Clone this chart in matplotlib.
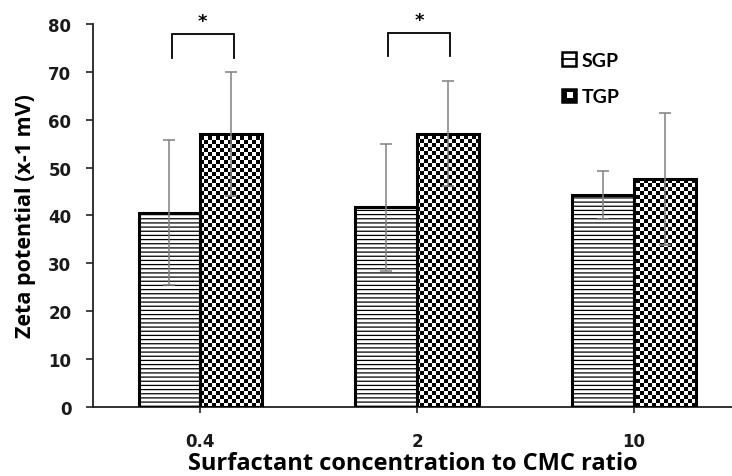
import numpy as np
import matplotlib
matplotlib.use("Agg")
import matplotlib.pyplot as plt
from matplotlib.patches import Rectangle
from matplotlib.lines import Line2D
from matplotlib.legend_handler import HandlerBase

categories = ["0.4", "2", "10"]
series_names = ["SGP", "TGP"]
sgp_values = [40.6, 41.7, 44.3]
sgp_errors = [15.1, 13.3, 5.0]
tgp_values = [57.0, 57.1, 47.6]
tgp_errors = [13.0, 10.9, 13.8]
yticks = [0, 10, 20, 30, 40, 50, 60, 70, 80]
sig_groups = [0, 1]
sig_bracket_top = [78.0, 78.2]
sig_bracket_bottom = [72.8, 73.4]

plt.rcParams['hatch.linewidth'] = 0.9
fig = plt.figure(figsize=(7.32, 4.77), dpi=100)
ax = fig.add_axes([93/732, 1-408/477, 1-93/732, (408-25)/477])

x = np.arange(len(categories))
w = 0.286
# SGP bars with horizontal line hatch
sgp_bars = ax.bar(x - w/2, sgp_values, w, facecolor='white', edgecolor='black',
                  hatch='----', linewidth=0, zorder=2)
ax.bar(x - w/2, sgp_values, w, facecolor='none', edgecolor='black', linewidth=2.2, zorder=3)

# TGP bars with checkerboard fill
tgp_bars = ax.bar(x + w/2, tgp_values, w, facecolor='white', edgecolor='none', zorder=2)
ax.bar(x + w/2, tgp_values, w, facecolor='none', edgecolor='black', linewidth=2.2, zorder=3)
ny, nx = 96, 160
checker = (np.indices((ny, nx)).sum(axis=0) % 2).astype(float)
for b in tgp_bars:
    im = ax.imshow(checker, cmap='gray_r', extent=[0, 1, 0, 1], transform=ax.transAxes,
                   interpolation='nearest', aspect='auto', zorder=2.5, vmin=0, vmax=1)
    im.set_clip_path(b)

# error bars
ax.errorbar(x - w/2, sgp_values, yerr=sgp_errors, fmt='none', ecolor='#808080',
            elinewidth=1.1, capsize=4, capthick=1.1, zorder=4)
ax.errorbar(x + w/2, tgp_values, yerr=tgp_errors, fmt='none', ecolor='#808080',
            elinewidth=1.1, capsize=4, capthick=1.1, zorder=4)

# significance brackets
for g, top, bot in zip(sig_groups, sig_bracket_top, sig_bracket_bottom):
    xl, xr = g - w/2 + 0.01, g + w/2 + 0.01
    ax.plot([xl, xl, xr, xr], [bot, top, top, bot], color='black', lw=1.3,
            clip_on=False, zorder=5, solid_joinstyle='miter')
    ax.text((xl + xr)/2, top + 0.8, '*', ha='center', va='bottom', fontsize=13,
            fontweight='bold', clip_on=False)

ax.set_xlim(-0.496, 2.453)
ax.set_ylim(0, 80)
ax.set_xticks(x)
ax.set_xticklabels(categories)
ax.set_yticks(yticks)
for s in ['top', 'right']:
    ax.spines[s].set_visible(False)
for s in ['left', 'bottom']:
    ax.spines[s].set_linewidth(1.3)
    ax.spines[s].set_color('#222222')
ax.tick_params(axis='y', direction='out', length=5, width=1.2, pad=10.5, color='#222222')
ax.tick_params(axis='x', direction='out', length=4, width=1.2, pad=14, color='#222222')
for lab in ax.get_xticklabels() + ax.get_yticklabels():
    lab.set_fontfamily('DejaVu Sans')
    lab.set_fontweight('bold')
    lab.set_fontsize(12)
    lab.set_color('#1a1a1a')

ax.set_ylabel('Zeta potential (x-1 mV)', fontsize=15.5, fontweight='bold', family='Open Sans', labelpad=9)
fig.text(412.5/732, 6.5/477, 'Surfactant concentration to CMC ratio', fontsize=17,
         fontweight='bold', family='Open Sans', ha='center', va='baseline')


class HandlerSGP(HandlerBase):
    def create_artists(self, legend, orig_handle, xdescent, ydescent, width, height, fontsize, trans):
        s = height * 1.0
        x0 = (width - s) / 2 - xdescent
        y0 = -ydescent + (height - s) / 2
        r = Rectangle((x0, y0), s, s, facecolor='white', edgecolor='black', lw=1.8, transform=trans)
        l = Line2D([x0, x0 + s], [y0 + s/2, y0 + s/2], color='black', lw=1.3, transform=trans)
        return [r, l]


class HandlerTGP(HandlerBase):
    def create_artists(self, legend, orig_handle, xdescent, ydescent, width, height, fontsize, trans):
        s = height * 1.0
        x0 = (width - s) / 2 - xdescent
        y0 = -ydescent + (height - s) / 2
        r = Rectangle((x0, y0), s, s, facecolor='black', edgecolor='black', lw=1.8, transform=trans)
        q = Rectangle((x0 + s*0.4, y0 + s*0.35), s*0.4, s*0.4, facecolor='white', edgecolor='none', transform=trans)
        return [r, q]


leg = ax.legend([sgp_bars, tgp_bars], series_names,
                handler_map={sgp_bars: HandlerSGP(), tgp_bars: HandlerTGP()},
                loc='upper left', bbox_to_anchor=((562-93)/639, (408-53)/383),
                frameon=False, borderpad=0, borderaxespad=0, handlelength=0.7, handleheight=0.7,
                handletextpad=0.3, labelspacing=1.0,
                prop={'family': 'Lato', 'weight': 'bold', 'size': 14})

fig.savefig('out.png', dpi=100)
